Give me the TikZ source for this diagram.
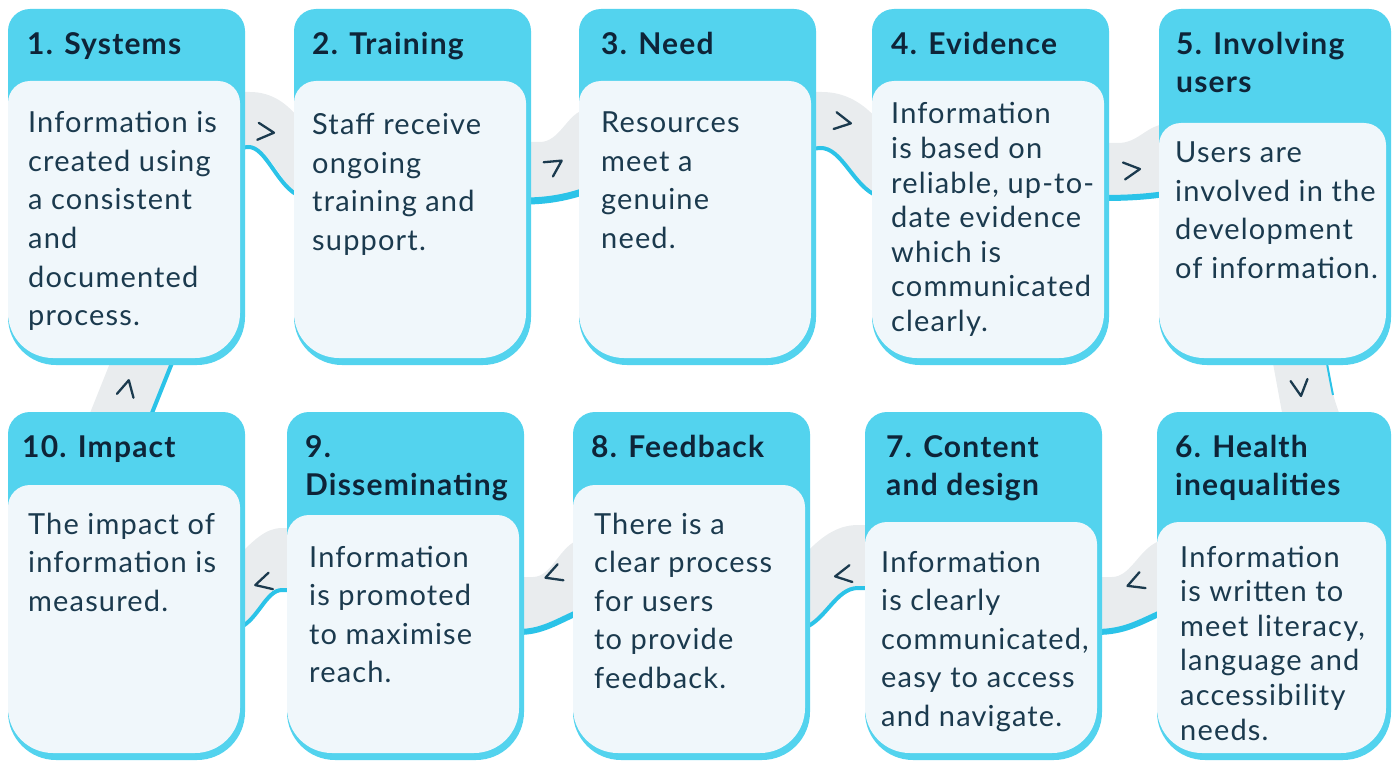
\documentclass[tikz,border=0pt]{standalone}
\usepackage{fontspec}
\setmainfont{Lato}[LetterSpace=4]
\definecolor{cardcyan}{HTML}{53D3EE}
\definecolor{cardpale}{HTML}{F0F7FB}
\definecolor{bandgrey}{HTML}{E9ECEE}
\definecolor{bandblue}{HTML}{2BC3E8}
\definecolor{textdark}{HTML}{1B3A4E}
\definecolor{headdark}{HTML}{0E2438}
\newcommand{\bodyfont}{\fontsize{29}{38.5}\selectfont}
\newcommand{\bodytight}{\fontsize{29}{34.6}\selectfont}
\newcommand{\headfont}{\fontsize{30}{38}\selectfont\bfseries}
\newcommand{\lines}[1]{\begin{tabular}[t]{@{}l@{}}#1\end{tabular}}
% rounded rectangle with four radii: style, L, T, R, B, rTL, rTR, rBR, rBL
\newcommand{\rrect}[9]{%
  \fill[#1] (#2,{#3+#6}) .. controls (#2,{#3+0.448*#6}) and ({#2+0.448*#6},#3) .. ({#2+#6},#3)
    -- ({#4-#7},#3) .. controls ({#4-0.448*#7},#3) and (#4,{#3+0.448*#7}) .. (#4,{#3+#7})
    -- (#4,{#5-#8}) .. controls (#4,{#5-0.448*#8}) and ({#4-0.448*#8},#5) .. ({#4-#8},#5)
    -- ({#2+#9},#5) .. controls ({#2+0.448*#9},#5) and (#2,{#5-0.448*#9}) .. (#2,{#5-#9}) -- cycle;}
% card: L, T, R, B, inner top
\newcommand{\card}[5]{%
  \rrect{cardouter}{#1}{#2}{#3}{#4}{22}{22}{48}{48}
  \rrect{cardinner}{#1}{#5}{#3-5}{#4-7}{22}{22}{45}{45}}
\newcommand{\chevron}[3]{%
  \begin{scope}[shift={(#1,#2)}, rotate=#3]
    \draw[chev] (-8,-8.5) -- (8,0) -- (-8,8.5);
  \end{scope}}
\tikzset{
  x=1pt, y=-1pt,
  cardouter/.style={fill=cardcyan},
  cardinner/.style={fill=cardpale},
  band/.style={fill=bandgrey},
  bandline/.style={draw=bandblue, line width=4pt},
  chev/.style={draw=textdark, line width=2.3pt, line cap=round, line join=round},
  head/.style={anchor=base west, inner sep=0pt, font=\headfont, text=headdark},
  body/.style={anchor=base west, inner sep=0pt, font=\bodyfont, text=textdark},
  bodyt/.style={body, font=\bodytight},
}
\begin{document}
\begin{tikzpicture}
\useasboundingbox (0,0) rectangle (1392,765);
% ---------- connectors (ribbon) ----------
% 1 -> 2
\fill[band] (239,92) -- (250,92) .. controls (272,92) and (288,104) .. (300,120) -- (300,196) .. controls (284,190) and (272,150) .. (250,147) -- (239,147) -- cycle;
\draw[bandline] (239,148) -- (248,147) .. controls (266,146) and (278,188) .. (300,196);
% 2 -> 3
\fill[band] (525,142) -- (540,142) .. controls (560,142) and (568,112) .. (585,110) -- (585,192) .. controls (565,198) and (545,201) .. (525,201) -- cycle;
\draw[bandline, line width=7pt] (525,201) .. controls (545,201) and (565,198) .. (585,191);
% 3 -> 4
\fill[band] (810,92) -- (822,92) .. controls (846,92) and (864,104) .. (878,120) -- (878,196) .. controls (860,190) and (846,150) .. (822,148) -- (810,148) -- cycle;
\draw[bandline] (810,149) -- (820,148) .. controls (842,147) and (854,188) .. (878,196);
% 4 -> 5
\fill[band] (1103,143) -- (1118,143) .. controls (1138,143) and (1146,126) .. (1165,124) -- (1165,194) .. controls (1145,197) and (1125,199) .. (1103,199) -- cycle;
\draw[bandline, line width=6pt] (1103,198) .. controls (1125,198) and (1145,197) .. (1165,194);
% 5 -> 6
\fill[band] (1272,358) -- (1326,358) .. controls (1330,385) and (1334,400) .. (1341,418) -- (1283,418) -- cycle;
\draw[draw=bandblue, line width=2pt] (1326,358) .. controls (1329,375) and (1331,385) .. (1333,395);
% 6 -> 7
\fill[band] (1096,577) -- (1112,577) .. controls (1132,577) and (1140,545) .. (1163,540) -- (1163,612) .. controls (1140,622) and (1125,632) .. (1096,632) -- cycle;
\draw[bandline, line width=6pt] (1096,632) .. controls (1125,632) and (1140,622) .. (1163,612);
% 7 -> 8
\fill[band] (871,525) -- (858,525) .. controls (836,525) and (820,538) .. (804,555) -- (804,628) .. controls (822,622) and (836,588) .. (858,588) -- (871,588) -- cycle;
\draw[bandline] (871,588) -- (858,588) .. controls (836,588) and (826,620) .. (804,628);
% 8 -> 9
\fill[band] (518,577) -- (533,577) .. controls (552,577) and (560,545) .. (579,540) -- (579,612) .. controls (556,622) and (542,632) .. (518,632) -- cycle;
\draw[bandline, line width=6pt] (518,632) .. controls (542,632) and (556,622) .. (579,612);
% 9 -> 10
\fill[band] (293,528) -- (282,528) .. controls (266,528) and (254,540) .. (239,555) -- (239,628) .. controls (254,622) and (266,590) .. (282,590) -- (293,590) -- cycle;
\draw[bandline] (293,590) -- (282,590) .. controls (266,590) and (258,620) .. (239,628);
% 10 -> 1
\fill[band] (112,358) -- (174,358) -- (150,418) -- (88,418) -- cycle;
\draw[bandline] (174,358) -- (150,418);
% chevrons
\chevron{266}{132}{-5}
\chevron{555}{165}{33}
\chevron{843}{122}{-10}
\chevron{1132}{170}{7}
\chevron{1300}{388}{-83}
\chevron{1135}{583}{201}
\chevron{843}{575}{190}
\chevron{553}{575}{200}
\chevron{263}{583}{195}
\chevron{127}{388}{77}
% ---------- cards ----------
\card{8}{9}{245}{365}{81}
\card{294}{9}{531}{365}{81}
\card{579}{9}{816}{365}{81}
\card{872}{9}{1109}{365}{81}
\card{1159}{9}{1391}{365}{123}
\card{8}{412}{245}{760}{485}
\card{287}{412}{524}{760}{515}
\card{573}{412}{810}{760}{485}
\card{865}{412}{1102}{760}{522}
\card{1157}{412}{1391}{760}{522}
% ---------- texts ----------
\node[head] (h1) at (27,55) {\lines{1. Systems}};
\node[body] (b1) at (28,133) {\lines{Information is\\created using\\a consistent\\and\\documented\\process.}};
\node[head] (h2) at (312,55) {\lines{2. Training}};
\node[body] (b2) at (312,135) {\lines{Staff receive\\ongoing\\training and\\support.}};
\node[head] (h3) at (601,55) {\lines{3. Need}};
\node[body] (b3) at (601,133) {\lines{Resources\\meet a\\genuine\\need.}};
\node[head] (h4) at (891,55) {\lines{4. Evidence}};
\node[bodyt] (b4) at (891,124) {\lines{Information\\is based on\\reliable, up-to-\\date evidence\\which is\\communicated\\clearly.}};
\node[head] (h5) at (1176,55) {\lines{5. Involving\\users}};
\node[body] (b5) at (1175,163) {\lines{Users are\\involved in the\\development\\of information.}};
\node[head] (h10) at (22,457) {\lines{10. Impact}};
\node[body] (b10) at (28,534) {\lines{The impact of\\information is\\measured.}};
\node[head] (h9) at (305,457) {\lines{9.\\Disseminating}};
\node[body] (b9) at (309,567) {\lines{Information\\is promoted\\to maximise\\reach.}};
\node[head] (h8) at (591,457) {\lines{8. Feedback}};
\node[body] (b8) at (594,534) {\lines{There is a\\clear process\\for users\\to provide\\feedback.}};
\node[head] (h7) at (886,457) {\lines{7. Content\\and design}};
\node[body] (b7) at (881,572) {\lines{Information\\is clearly\\communicated,\\easy to access\\and navigate.}};
\node[head] (h6) at (1175,457) {\lines{6. Health\\inequalities}};
\node[bodyt] (b6) at (1180,567) {\lines{Information\\is written to\\meet literacy,\\language and\\accessibility\\needs.}};
\end{tikzpicture}
\end{document}
